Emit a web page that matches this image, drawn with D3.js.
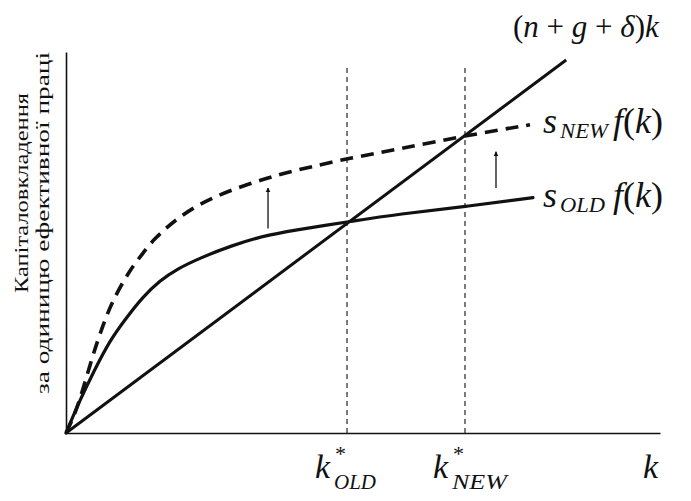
<!DOCTYPE html>
<html>
<head>
<meta charset="utf-8">
<script src="https://cdn.jsdelivr.net/npm/d3@7"></script>
<style>
  html, body { margin: 0; padding: 0; background: #fff; }
  svg { display: block; }
</style>
</head>
<body>
<svg id="chart" width="691" height="501"></svg>
<script>
// ---- data (arbitrary units, k on x, investment on y) ----
const sOldK = [0, 0.236, 0.455, 0.741, 1.027, 1.296, 1.582, 1.869, 2.256, 2.761, 3.401, 4.158, 4.731, 5.623, 6.717, 7.862];
const sOldY = [0, 0.88, 1.6, 2.48, 3.09, 3.63, 4.06, 4.37, 4.66, 4.98, 5.29, 5.48, 5.62, 5.84, 6.03, 6.27];

const sNewK = [0, 0.185, 0.455, 0.623, 0.791, 1.077, 1.279, 1.448, 1.919, 2.475, 3.047, 3.603, 4.158, 4.731, 5.623, 6.717, 7.811];
const sNewY = [0, 0.6, 2.1, 2.88, 3.55, 4.35, 4.75, 5.12, 5.8, 6.29, 6.62, 6.9, 7.1, 7.31, 7.57, 7.92, 8.21];

const breakEvenK = [0, 8.42];
const breakEvenSlope = 1.18;

const steadyStates = [4.731, 6.717];      // k*_OLD, k*_NEW
const guideTop = 9.73;

const arrowK = [3.401, 7.239];
const arrowFrom = [5.45, 6.53];
const arrowTo = [6.53, 7.49];

const xMax = 10, yMax = 10.15;
const yLabelLines = ["Капіталовкладення", "за одиницю ефективної праці"];

const SERIF = "'Liberation Serif', 'Times New Roman', Times, serif";

// ---- scales ----
const svg = d3.select("#chart");
const x = d3.scaleLinear().domain([0, xMax]).range([66, 660]);
const y = d3.scaleLinear().domain([0, yMax]).range([433, 52]);

// ---- axes ----
svg.append("g").attr("transform", `translate(0,${y(0)})`)
  .call(d3.axisBottom(x).tickValues([]).tickSizeOuter(0))
  .select(".domain").attr("stroke", "#111").attr("stroke-width", 1.6);
svg.append("g").attr("transform", `translate(${x(0)},0)`)
  .call(d3.axisLeft(y).tickValues([]).tickSizeOuter(0))
  .select(".domain").attr("stroke", "#111").attr("stroke-width", 1.6);

// ---- vertical guides ----
svg.selectAll("line.guide").data(steadyStates).enter().append("line")
  .attr("class", "guide")
  .attr("x1", d => x(d)).attr("x2", d => x(d))
  .attr("y1", y(0)).attr("y2", y(guideTop))
  .attr("stroke", "#111").attr("stroke-width", 1.1)
  .attr("stroke-dasharray", "5,4");

const line = d3.line().x(d => x(d[0])).y(d => y(d[1])).curve(d3.curveBasis);

// break-even line
svg.append("path")
  .datum(breakEvenK.map(k => [k, k * breakEvenSlope]))
  .attr("d", d3.line().x(d => x(d[0])).y(d => y(d[1])))
  .attr("fill", "none").attr("stroke", "#111").attr("stroke-width", 3);

// s_OLD f(k)
svg.append("path")
  .datum(sOldK.map((k, i) => [k, sOldY[i]]))
  .attr("d", line)
  .attr("fill", "none").attr("stroke", "#111").attr("stroke-width", 3.2)
  .attr("stroke-linecap", "round");

// s_NEW f(k)
svg.append("path")
  .datum(sNewK.map((k, i) => [k, sNewY[i]]))
  .attr("d", line)
  .attr("fill", "none").attr("stroke", "#111").attr("stroke-width", 3.6)
  .attr("stroke-dasharray", "13,8");

// arrows
const defs = svg.append("defs");
defs.append("marker").attr("id", "ah")
  .attr("viewBox", "0 0 10 10").attr("refX", 9).attr("refY", 5)
  .attr("markerWidth", 5).attr("markerHeight", 7).attr("markerUnits", "userSpaceOnUse")
  .attr("orient", "auto")
  .append("path").attr("d", "M0,0 L10,5 L0,10 Z").attr("fill", "#111");

svg.selectAll("line.arrow").data(arrowK).enter().append("line")
  .attr("class", "arrow")
  .attr("x1", d => x(d)).attr("x2", d => x(d))
  .attr("y1", (d, i) => y(arrowFrom[i])).attr("y2", (d, i) => y(arrowTo[i]))
  .attr("stroke", "#111").attr("stroke-width", 1.3)
  .attr("marker-end", "url(#ah)");

// ---- labels ----
function txt(sel) { return sel.append("text").style("font-family", SERIF).attr("fill", "#111"); }

// (n + g + δ)k
const t1 = txt(svg).attr("x", 513).attr("y", 37).attr("font-size", 31);
[["(", false], ["n", true], [" + ", false], ["g", true], [" + ", false], ["δ", true], [")", false], ["k", true]]
  .forEach(([s, it]) => t1.append("tspan").attr("font-style", it ? "italic" : "normal").text(s));

function sLabel(xx, yy, sub, subLen) {
  const t = txt(svg).attr("font-size", 36);
  t.append("tspan").attr("x", xx).attr("y", yy).attr("font-style", "italic").text("s");
  t.append("tspan").attr("x", xx + 17).attr("y", yy + 5).attr("font-size", 21).attr("font-style", "italic")
    .attr("textLength", subLen).attr("lengthAdjust", "spacingAndGlyphs").text(sub);
  t.append("tspan").attr("x", xx + 70).attr("y", yy).attr("font-style", "italic").text("f");
  t.append("tspan").text("(");
  t.append("tspan").attr("font-style", "italic").text("k");
  t.append("tspan").text(")");
}
sLabel(543, 133, "NEW", 48);
sLabel(543, 207, "OLD", 45);

// x-axis labels
function kStar(kv, sub, subLen) {
  const x0 = x(kv) - 32;
  const t = txt(svg).attr("font-size", 34);
  t.append("tspan").attr("x", x0).attr("y", 478).attr("font-style", "italic").text("k");
  t.append("tspan").attr("x", x0 + 20).attr("y", 461).attr("font-size", 22).text("*");
  t.append("tspan").attr("x", x0 + 19).attr("y", 489).attr("font-size", 21).attr("font-style", "italic")
    .attr("textLength", subLen).attr("lengthAdjust", "spacingAndGlyphs").text(sub);
}
kStar(steadyStates[0], "OLD", 42);
kStar(steadyStates[1], "NEW", 55);
txt(svg).attr("x", x(xMax) - 17).attr("y", 478).attr("font-size", 34).attr("font-style", "italic").text("k");

// y-axis title (two rotated lines)
const yl = [[28, 193, 200], [49, 223, 342]];
yLabelLines.forEach((s, i) => {
  txt(svg)
    .attr("transform", `translate(${yl[i][0]},${yl[i][1]}) rotate(-90)`)
    .attr("text-anchor", "middle").attr("font-size", 19)
    .attr("textLength", yl[i][2]).attr("lengthAdjust", "spacingAndGlyphs")
    .text(s);
});
</script>
</body>
</html>
